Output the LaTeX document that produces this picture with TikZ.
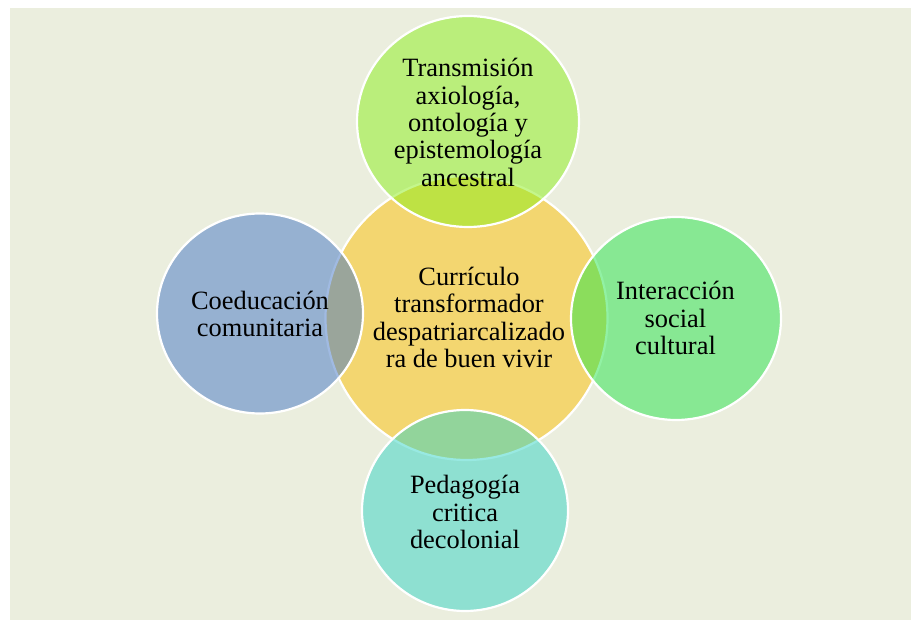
\documentclass[tikz,border=0pt]{standalone}
\usepackage{fontspec}
\setmainfont{Liberation Serif}
\usetikzlibrary{shapes.geometric}
\definecolor{bgc}{RGB}{235,238,222}
\definecolor{cyel}{RGB}{243,214,112}
\definecolor{cgrn}{RGB}{139,238,26}
\definecolor{cblu}{RGB}{67,118,198}
\definecolor{crgr}{RGB}{37,228,74}
\definecolor{ctea}{RGB}{51,212,198}
\tikzset{
  bubble/.style={ellipse, inner sep=0pt, draw=white, line width=2.2pt},
  sat/.style={bubble, fill opacity=0.5, draw opacity=1},
  lbl/.style={align=center, text=black, inner sep=0pt,
    font=\fontsize{26.4}{27.3}\selectfont}
}
\begin{document}
\begin{tikzpicture}[x=1pt,y=-1pt]
\useasboundingbox (0,0) rectangle (911,620);
\fill[bgc] (10,8) rectangle (911,620);
% center
\node[bubble, fill=cyel, minimum width=282pt, minimum height=284pt] (cen) at (466.5,318) {};
% satellites
\node[sat, fill=cgrn, minimum width=222pt, minimum height=211pt] (top) at (468,121.5) {};
\node[sat, fill=cblu, minimum width=206pt, minimum height=200pt] (lef) at (260,313.5) {};
\node[sat, fill=crgr, minimum width=210pt, minimum height=203pt] (rig) at (676,318.5) {};
\node[sat, fill=ctea, minimum width=206pt, minimum height=201pt] (bot) at (465,510.5) {};
% labels
\node[lbl] (tcen) at (469,317.5) {Currículo\\transformador\\despatriarcalizado\\ra de buen vivir};
\node[lbl] (ttop) at (468,122.5) {Transmisión\\axiología,\\ontología y\\epistemología\\ancestral};
\node[lbl] (tlef) at (260,314) {Coeducación\\comunitaria};
\node[lbl] (trig) at (675.5,318) {Interacción\\social\\cultural};
\node[lbl] (tbot) at (465,512) {Pedagogía\\critica\\decolonial};
\end{tikzpicture}
\end{document}
